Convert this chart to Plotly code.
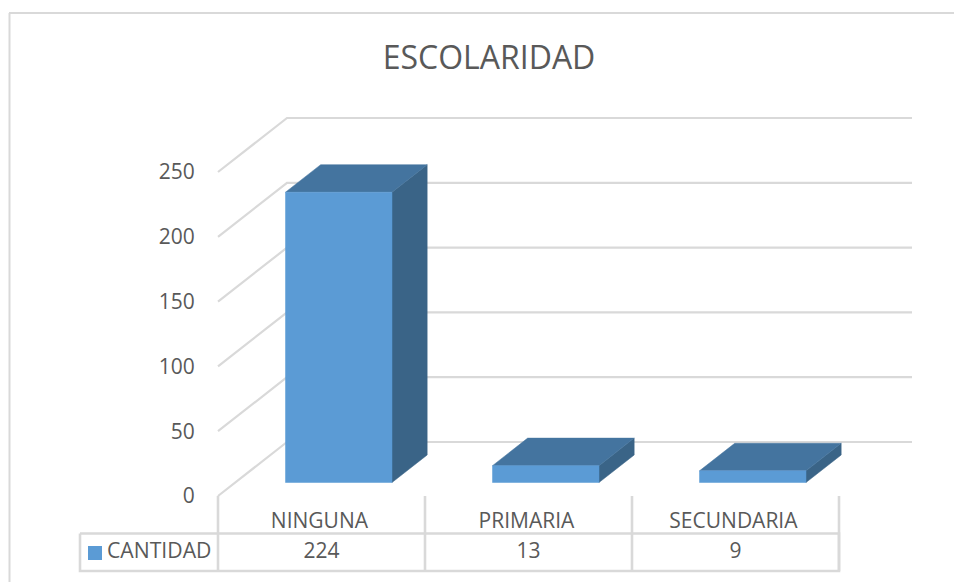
import plotly.graph_objects as go

# Data
title_text = "ESCOLARIDAD"
series_name = "CANTIDAD"
categories = ["NINGUNA", "PRIMARIA", "SECUNDARIA"]
values = [224, 13, 9]
y_ticks = [0, 50, 100, 150, 200, 250]

# Styling / pseudo-3D projection
W, H = 954, 582
X0_PX, Y0_PX = 218, 496
PX_PER_CAT, PX_PER_VAL = 207, 1.296
DEPTH_X = 69 / PX_PER_CAT
DEPTH_Y = 54 / PX_PER_VAL
BAR_W = 106.5 / PX_PER_CAT
T0, T1 = 0.25, 0.76
FRONT, SIDE, TOP = "#5b9bd5", "#3a6487", "#44749f"
GRID, TEXT = "#d9d9d9", "#595959"
FONT = "Open Sans"

def cx(px):
    return (px - X0_PX) / PX_PER_CAT

def vy(py):
    return (Y0_PX - py) / PX_PER_VAL

fig = go.Figure()

def poly(xs, ys, color):
    fig.add_trace(go.Scatter(x=xs + xs[:1], y=ys + ys[:1], mode="lines", fill="toself",
                             fillcolor=color, line=dict(color=color, width=0.5),
                             hoverinfo="skip", showlegend=False))

def line(xs, ys, width=2):
    fig.add_trace(go.Scatter(x=xs, y=ys, mode="lines", line=dict(color=GRID, width=width),
                             hoverinfo="skip", showlegend=False))

# Gridlines: side wall and back wall
right_end = cx(912)
for v in y_ticks:
    line([0, DEPTH_X, right_end], [v, v + DEPTH_Y, v + DEPTH_Y], 2.2)

# Bars
for i, v in enumerate(values):
    left = i + 0.5 - BAR_W / 2
    fx0, fx1 = left + T0 * DEPTH_X, left + BAR_W + T0 * DEPTH_X
    bx0, bx1 = left + T1 * DEPTH_X, left + BAR_W + T1 * DEPTH_X
    fb, ft = T0 * DEPTH_Y, v + T0 * DEPTH_Y
    bb, bt = T1 * DEPTH_Y, v + T1 * DEPTH_Y
    poly([fx1, bx1, bx1, fx1], [fb, bb, bt, ft], SIDE)
    poly([fx0, fx1, bx1, bx0], [ft, ft, bt, bt], TOP)
    poly([fx0, fx1, fx1, fx0], [fb, fb, ft, ft], FRONT)

# Data table frame
tbl_top, tbl_bot = vy(533.5), vy(571)
tbl_left = cx(80)
n = len(categories)
line([tbl_left, n, n, tbl_left, tbl_left], [tbl_top, tbl_top, tbl_bot, tbl_bot, tbl_top], 2.6)
for i in range(n + 1):
    line([i, i], [0, tbl_bot], 2.6)

# Data table text
row_y = vy(553)
fig.add_trace(go.Scatter(x=[i + 0.5 for i in range(n)], y=[row_y] * n, mode="text",
                         text=[str(v) for v in values],
                         textfont=dict(family=FONT, size=21, color=TEXT),
                         textposition="middle center", hoverinfo="skip", showlegend=False))
fig.add_trace(go.Scatter(x=[cx(95)], y=[row_y], mode="markers",
                         marker=dict(symbol="square", size=14, color=FRONT),
                         hoverinfo="skip", showlegend=False))
fig.add_trace(go.Scatter(x=[cx(107)], y=[row_y], mode="text", text=[series_name],
                         textfont=dict(family=FONT, size=21.2, color=TEXT),
                         textposition="middle right", hoverinfo="skip", showlegend=False))

fig.update_layout(
    width=W, height=H,
    margin=dict(l=0, r=0, t=0, b=0),
    paper_bgcolor="white", plot_bgcolor="white",
    showlegend=False,
    title=dict(text=title_text, x=489 / W, xanchor="center", y=1 - 58 / H, yanchor="middle",
               font=dict(family=FONT, size=32, color=TEXT)),
    xaxis=dict(range=[cx(0), cx(W)], anchor="free", position=(H - Y0_PX) / H,
               tickmode="array", tickvals=[i + 0.49 for i in range(n)], ticktext=categories,
               ticks="outside", ticklen=6, tickcolor="rgba(0,0,0,0)",
               tickfont=dict(family=FONT, size=21, color=TEXT),
               showgrid=False, zeroline=False, showline=False, fixedrange=True),
    yaxis=dict(range=[vy(H), vy(0)], anchor="free", position=X0_PX / W,
               tickmode="array", tickvals=y_ticks,
               ticks="outside", ticklen=19, tickcolor="rgba(0,0,0,0)",
               tickfont=dict(family=FONT, size=21, color=TEXT),
               showgrid=False, zeroline=False, showline=False, fixedrange=True),
    shapes=[dict(type="line", xref="paper", yref="paper", x0=9.5 / W, x1=9.5 / W, y0=0, y1=1 - 13 / H,
                 line=dict(color=GRID, width=2)),
            dict(type="line", xref="paper", yref="paper", x0=9 / W, x1=1, y0=1 - 13 / H, y1=1 - 13 / H,
                 line=dict(color=GRID, width=2))],
)

fig.write_html("out.html", config={"displayModeBar": False},
               post_script="document.body.style.margin='0';")
